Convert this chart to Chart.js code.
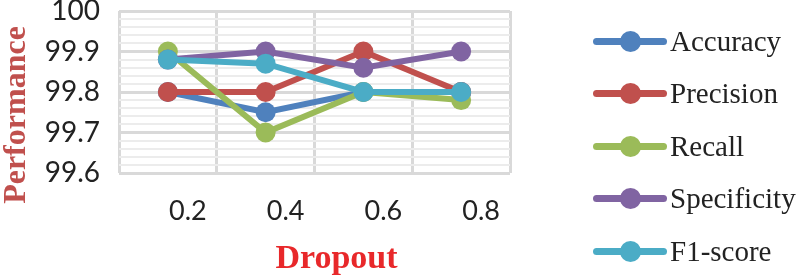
<!DOCTYPE html>
<html>
<head>
<meta charset="utf-8">
<script src="https://cdn.jsdelivr.net/npm/chart.js@4.4.0/dist/chart.umd.min.js"></script>
<style>
  html, body { margin: 0; padding: 0; background: #fff; }
  #wrap { position: relative; width: 800px; height: 277px; overflow: hidden; }
  #legend { position: absolute; left: 593px; top: 15px; margin: 0; padding: 0; list-style: none; }
  #legend li { display: flex; align-items: center; height: 52.5px; font-family: "Liberation Serif", serif; font-size: 29px; color: #222; }
  #legend .icon { position: relative; width: 74px; height: 22px; margin-right: 3px; flex: none; }
  #legend .icon .bar { position: absolute; left: 0; right: 0; top: 7.5px; height: 7px; border-radius: 4px; }
  #legend .icon .dot { position: absolute; left: 26.5px; top: 0.5px; width: 21px; height: 21px; border-radius: 50%; }
</style>
</head>
<body>
<div id="wrap">
  <canvas id="dropoutChart" width="800" height="277"></canvas>
  <ul id="legend"></ul>
</div>
<script>
// valores
const dropouts = ["0.2", "0.4", "0.6", "0.8"];
const accuracy = [99.8, 99.75, 99.8, 99.8];
const precision = [99.8, 99.8, 99.9, 99.8];
const recall = [99.9, 99.7, 99.8, 99.78];
const specificity = [99.88, 99.9, 99.86, 99.9];
const f1score = [99.88, 99.87, 99.8, 99.8];
const yTickLabels = ["99.6", "99.7", "99.8", "99.9", "100"];
const xTitle = "Dropout";
const yTitle = "Performance";

const seriesNames = ["Accuracy", "Precision", "Recall", "Specificity", "F1-score"];
const seriesColors = ["#4F81BD", "#C0504D", "#9BBB59", "#8064A2", "#4BACC6"];
const seriesData = [accuracy, precision, recall, specificity, f1score];

const datasets = seriesNames.map(function(name, i) {
    return {
        label: name,
        data: seriesData[i],
        borderColor: seriesColors[i],
        backgroundColor: seriesColors[i],
        borderWidth: 6,
        pointRadius: 10,
        pointBorderWidth: 0,
        pointHoverRadius: 10,
        tension: 0,
        // a última série fica por cima, como no Excel
        order: seriesNames.length - i
    };
});

// legenda em HTML (linha com bolinha, igual ao original)
const htmlLegend = {
    id: "htmlLegend",
    afterUpdate: function(chart) {
        const ul = document.getElementById("legend");
        ul.innerHTML = "";
        chart.data.datasets.forEach(function(ds) {
            const li = document.createElement("li");
            const icon = document.createElement("span");
            icon.className = "icon";
            const bar = document.createElement("span");
            bar.className = "bar";
            bar.style.background = ds.borderColor;
            const dot = document.createElement("span");
            dot.className = "dot";
            dot.style.background = ds.borderColor;
            icon.appendChild(bar);
            icon.appendChild(dot);
            li.appendChild(icon);
            li.appendChild(document.createTextNode(ds.label));
            ul.appendChild(li);
        });
    }
};

// títulos dos eixos (no original ficam um pouco deslocados do centro)
const axisTitles = {
    id: "axisTitles",
    afterDraw: function(chart) {
        const ctx = chart.ctx;
        const area = chart.chartArea;
        ctx.save();
        ctx.textAlign = "center";
        ctx.textBaseline = "middle";
        ctx.font = "bold 34px 'Liberation Serif', serif";
        ctx.fillStyle = "#E8282A";
        ctx.fillText(xTitle, (area.left + area.right) / 2 + 22, area.bottom + 86);
        ctx.translate(17, (area.top + area.bottom) / 2 + 23);
        ctx.rotate(-Math.PI / 2);
        ctx.font = "bold 32px 'Liberation Serif', serif";
        ctx.fillStyle = "#C0504D";
        ctx.fillText(yTitle, 0, 0);
        ctx.restore();
    }
};

new Chart(document.getElementById("dropoutChart"), {
    type: "line",
    data: { labels: dropouts, datasets: datasets },
    plugins: [htmlLegend, axisTitles],
    options: {
        responsive: false,
        animation: false,
        layout: { padding: { top: 11, right: 290, bottom: 0, left: 0 } },
        plugins: {
            tooltip: { enabled: false },
            legend: { display: false }
        },
        scales: {
            x: {
                offset: true,
                grid: { offset: true, color: "#d9d9d9", lineWidth: 3, drawTicks: false },
                border: { display: false },
                ticks: { color: "#222", padding: 22, labelOffset: 20, font: { family: "Lato", size: 27 } },
                afterFit: function(scale) { scale.height = 104; }
            },
            yMinor: {
                position: "left",
                min: 99.6,
                max: 100,
                z: -1,
                ticks: { display: false, stepSize: 0.02 },
                grid: { color: "#ececec", lineWidth: 2, drawTicks: false },
                border: { display: false },
                afterFit: function(scale) { scale.width = 0; }
            },
            y: {
                min: 99.6,
                max: 100,
                grid: { color: "#d9d9d9", lineWidth: 3, drawTicks: false },
                border: { display: false },
                ticks: {
                    stepSize: 0.1,
                    autoSkip: false,
                    padding: 19,
                    color: "#222",
                    font: { family: "Lato", size: 28 },
                    callback: function(value, index) { return yTickLabels[index]; }
                },
                afterFit: function(scale) {
                    scale.width = 119;
                    scale.paddingTop = 0;
                    scale.paddingBottom = 0;
                }
            }
        }
    }
});
</script>
</body>
</html>
